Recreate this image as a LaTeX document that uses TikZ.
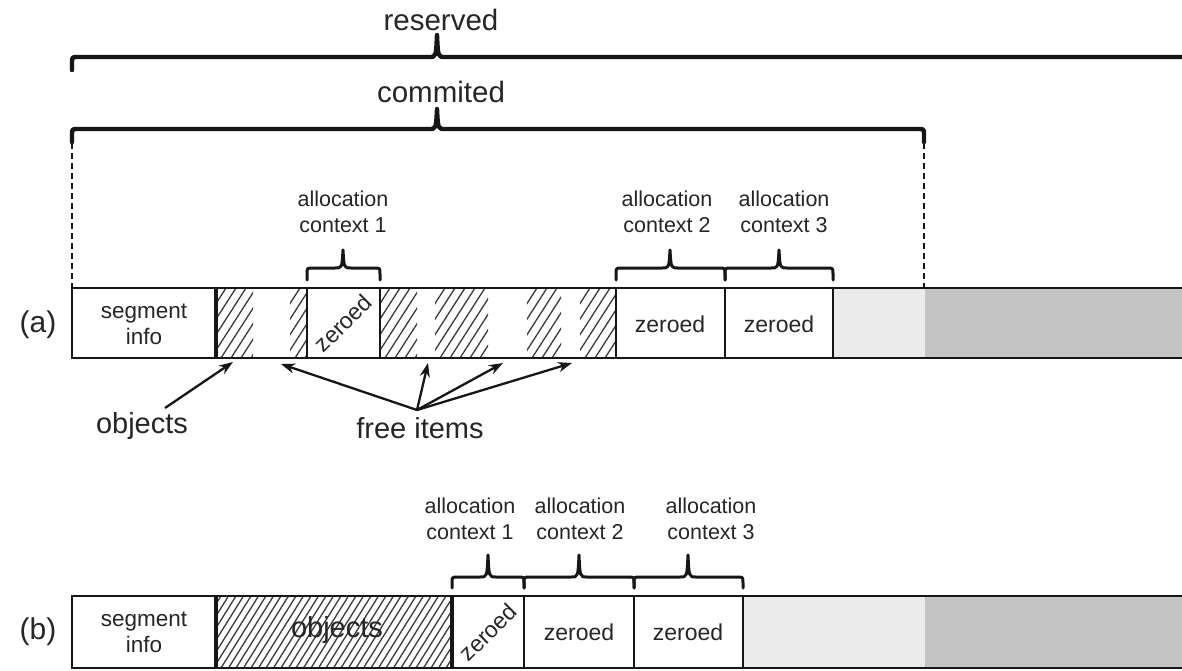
\documentclass[tikz,border=0pt]{standalone}
\usepackage{fontspec}
\setmainfont{Liberation Sans}
\usetikzlibrary{arrows.meta}
\definecolor{inkc}{HTML}{161616}
\definecolor{txtc}{HTML}{262626}
\definecolor{freshgray}{HTML}{EBEBEB}
\definecolor{unusedgray}{HTML}{C4C4C4}
\definecolor{hatchc}{HTML}{3A3A3A}

% curly brace: #1 left end, #2 tip, #3 right end, #4 baseline y, #5 end drop, #6 tip height, #7 style
\newcommand\curlybrace[7]{%
  \draw[#7] (#1,#4+#5) -- (#1,#4+6) .. controls (#1,#4) .. (#1+6,#4)
    -- (#2-8,#4) .. controls (#2-1,#4) .. (#2,#4-#6)
    .. controls (#2+1,#4) .. (#2+8,#4)
    -- (#3-6,#4) .. controls (#3,#4) .. (#3,#4+6) -- (#3,#4+#5);}

% diagonal hatching of a strip: #1 left, #2 right, #3 top, #4 bottom, #5 spacing
\newcommand\hatchstrip[5]{%
  \begin{scope}
    \clip (#1,#3) rectangle (#2,#4);
    \pgfmathtruncatemacro\hatchcount{(#2-#1+70)/#5}
    \foreach \i in {0,...,\hatchcount}
      \draw[hatchline] (#1-55+\i*#5,#4) -- ++(45,#3-#4);
  \end{scope}}

\begin{document}
\begin{tikzpicture}[x=1pt,y=-1pt,
  frame/.style={draw=inkc,line width=2.8pt},
  thickdiv/.style={draw=inkc,line width=4.6pt},
  thindiv/.style={draw=inkc,line width=2.4pt},
  hatchline/.style={draw=hatchc,line width=1.3pt},
  smallbrace/.style={draw=inkc,line width=3pt,line cap=round,line join=round},
  bigbrace/.style={draw=inkc,line width=4.4pt,line cap=round,line join=round},
  guide/.style={draw=inkc,line width=2.4pt,dash pattern=on 6pt off 4pt},
  arr/.style={draw=inkc,line width=2.3pt,-{Stealth[length=14pt,width=10pt]}},
  toplabel/.style={text=txtc,font=\fontsize{29.5}{34}\selectfont},
  rowlabel/.style={text=txtc,font=\fontsize{30}{34}\selectfont},
  boxtext/.style={text=txtc,font=\fontsize{22.5}{26}\selectfont,align=center},
  zerotext/.style={text=txtc,font=\fontsize{23}{26}\selectfont},
  ctxlabel/.style={text=txtc,font=\fontsize{21.5}{26}\selectfont,align=center},
  pointer/.style={text=txtc,font=\fontsize{29}{34}\selectfont}]

\clip (0,0) rectangle (1182,671);
\fill[white] (0,0) rectangle (1182,671);

% ---------- overall extents ----------
\node[toplabel] (reservedlbl) at (441,20) {reserved};
\curlybrace{72}{437}{1320}{57}{13}{22}{bigbrace}
\node[toplabel] (commitedlbl) at (441,92) {commited};
\curlybrace{72}{437}{924}{129}{13}{20}{bigbrace}

% ---------- row (a) ----------
\fill[freshgray] (833,288) rectangle (925,358);
\fill[unusedgray] (925,288) rectangle (1190,358);
\hatchstrip{216}{253}{288}{358}{10}
\hatchstrip{290}{307}{288}{358}{10}
\hatchstrip{380}{417}{288}{358}{10}
\hatchstrip{435}{488}{288}{358}{10}
\hatchstrip{527}{561}{288}{358}{10}
\hatchstrip{580}{616}{288}{358}{10}
\draw[frame] (72,288) rectangle (1200,358);
\draw[thickdiv] (216,288) -- (216,358);
\foreach \xx in {307,380,616,725,833}
  \draw[thindiv] (\xx,288) -- (\xx,358);

\coordinate (cl) at (72,143);
\coordinate (cr) at (924,143);
\coordinate (al) at (72,288);
\coordinate (ar) at (924,288);
\draw[guide] (cl) -- (al);
\draw[guide] (cr) -- (ar);

\node[rowlabel] (rowa) at (38,325) {(a)};
\node[boxtext] (segA) at (144,324) {segment\\info};
\node[zerotext,rotate=45] (zA1) at (343,323) {zeroed};
\node[zerotext] (zA2) at (670,324) {zeroed};
\node[zerotext] (zA3) at (779,324) {zeroed};

\curlybrace{307}{343}{380}{268}{12}{18}{smallbrace}
\curlybrace{616}{670}{725}{268}{12}{18}{smallbrace}
\curlybrace{725}{779}{833}{268}{12}{18}{smallbrace}
\node[ctxlabel] (ctxA1) at (343,212) {allocation\\context 1};
\node[ctxlabel] (ctxA2) at (667,212) {allocation\\context 2};
\node[ctxlabel] (ctxA3) at (784,212) {allocation\\context 3};

% pointers below row (a)
\node[pointer] (objlbl) at (142,426) {objects};
\node[pointer] (freelbl) at (420,428) {free items};
\coordinate (objtail) at (165,408);
\coordinate (objtip) at (233,362);
\draw[arr] (objtail) -- (objtip);
\coordinate (hub) at (417,410);
\coordinate (f1) at (281,364);
\coordinate (f2) at (428,363);
\coordinate (f3) at (503,363);
\coordinate (f4) at (572,363);
\foreach \t in {f1,f2,f3,f4}
  \draw[arr] (hub) -- (\t);

% ---------- row (b) ----------
\fill[freshgray] (743,596) rectangle (925,668);
\fill[unusedgray] (925,596) rectangle (1190,668);
\hatchstrip{216}{452}{596}{668}{7.5}
\draw[frame] (72,596) rectangle (1200,668);
\draw[thickdiv] (216,596) -- (216,668);
\draw[thickdiv] (452,596) -- (452,668);
\foreach \xx in {524,634,743}
  \draw[thindiv] (\xx,596) -- (\xx,668);

\node[rowlabel] (rowb) at (38,632) {(b)};
\node[boxtext] (segB) at (144,632) {segment\\info};
\node[text=txtc,font=\fontsize{29}{34}\selectfont] (objB) at (337,630) {objects};
\node[zerotext,rotate=45] (zB1) at (488,632) {zeroed};
\node[zerotext] (zB2) at (579,632) {zeroed};
\node[zerotext] (zB3) at (688,632) {zeroed};

\curlybrace{452}{488}{524}{577}{11}{22}{smallbrace}
\curlybrace{524}{579}{634}{577}{11}{22}{smallbrace}
\curlybrace{634}{688}{743}{577}{11}{22}{smallbrace}
\node[ctxlabel] (ctxB1) at (470,519) {allocation\\context 1};
\node[ctxlabel] (ctxB2) at (580,519) {allocation\\context 2};
\node[ctxlabel] (ctxB3) at (711,519) {allocation\\context 3};
\end{tikzpicture}
\end{document}
